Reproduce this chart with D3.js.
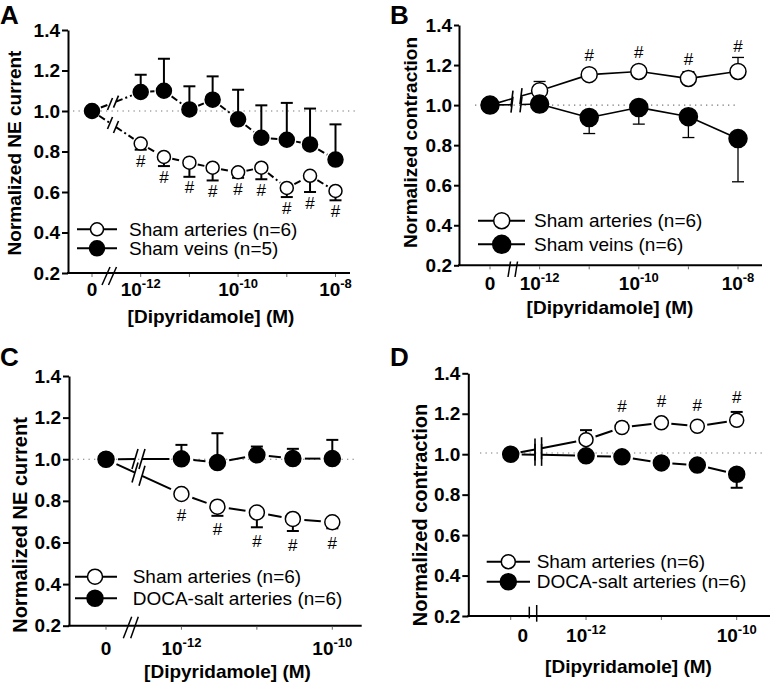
<!DOCTYPE html>
<html><head><meta charset="utf-8">
<script src="https://cdn.jsdelivr.net/npm/d3@7"></script>
<style>
body{margin:0;background:#fff}
svg{display:block}
text{font-family:"Liberation Sans",Arial,Helvetica,sans-serif;fill:#000}
</style>
</head><body>
<svg id="chart" width="774" height="683"></svg>
<script>
// ---------- DATA ----------
const ZERO_POS = 1e-13; // where "0" concentration sits on the log axis
const yTicks = [0.2, 0.4, 0.6, 0.8, 1.0, 1.2, 1.4];

// Panel A
const concA = [0, 1e-12, 3e-12, 1e-11, 3e-11, 1e-10, 3e-10, 1e-9, 3e-9, 1e-8];
const aArtMean = [1.0, 0.839, 0.773, 0.745, 0.720, 0.697, 0.720, 0.620, 0.680, 0.605];
const aArtErr  = [0, 0.030, 0.045, 0.070, 0.063, 0.027, 0.057, 0.045, 0.080, 0.046];
const aArtSig  = [0, 1, 1, 1, 1, 1, 1, 1, 1, 1];
const aVeinMean = [1.0, 1.094, 1.100, 1.008, 1.056, 0.959, 0.868, 0.858, 0.835, 0.760];
const aVeinErr  = [0, 0.085, 0.158, 0.114, 0.115, 0.146, 0.160, 0.182, 0.177, 0.174];
const aTickExp = [-12, -10, -8];
const aLegend = ["Sham arteries (n=6)", "Sham veins (n=5)"];

// Panel B
const concB = [0, 1e-12, 1e-11, 1e-10, 1e-9, 1e-8];
const bArtMean = [1.0, 1.072, 1.152, 1.168, 1.133, 1.168];
const bArtErr  = [0, 0.046, 0.015, 0.022, 0.034, 0.070];
const bArtSig  = [0, 0, 1, 1, 1, 1];
const bVeinMean = [1.0, 1.005, 0.938, 0.988, 0.942, 0.833];
const bVeinErr  = [0, 0, 0.080, 0.083, 0.104, 0.216];
const bTickExp = [-12, -10, -8];
const bLegend = ["Sham arteries (n=6)", "Sham veins (n=6)"];

// Panel C
const concC = [0, 1e-12, 3e-12, 1e-11, 3e-11, 1e-10];
const cArtMean = [1.0, 0.833, 0.772, 0.744, 0.713, 0.697];
const cArtErr  = [0, 0.015, 0.044, 0.071, 0.058, 0.029];
const cArtSig  = [0, 1, 1, 1, 1, 1];
const cDocaMean = [1.0, 1.002, 0.984, 1.021, 1.003, 1.003];
const cDocaErr  = [0, 0.067, 0.141, 0.040, 0.047, 0.090];
const cTickExp = [-12, -10];
const cLegend = ["Sham arteries (n=6)", "DOCA-salt arteries (n=6)"];

// Panel D
const concD = [0, 1e-12, 3e-12, 1e-11, 3e-11, 1e-10];
const dArtMean = [1.0, 1.072, 1.132, 1.155, 1.138, 1.168];
const dArtErr  = [0, 0.047, 0.023, 0.012, 0.015, 0.041];
const dArtSig  = [0, 0, 1, 1, 1, 1];
const dDocaMean = [1.0, 0.992, 0.987, 0.957, 0.946, 0.901];
const dDocaErr  = [0, 0, 0, 0, 0, 0.067];
const dTickExp = [-12, -10];
const dLegend = ["Sham arteries (n=6)", "DOCA-salt arteries (n=6)"];

// ---------- DRAWING ----------
const svg = d3.select("#chart");
const FONT = '"Liberation Sans",Arial,Helvetica,sans-serif';

function drawPanel(cfg) {
  const g = svg.append("g");
  const y = d3.scaleLinear().domain([0.2, 1.4]).range([cfg.yBottom, cfg.yTop]);
  const x = d3.scaleLog().domain([ZERO_POS, cfg.xMax]).range([cfg.x0, cfg.xMaxPx]);
  const px = c => x(c === 0 ? ZERO_POS : c);

  // reference dotted line
  g.append("line")
    .attr("x1", cfg.refX1).attr("x2", cfg.refX2)
    .attr("y1", y(cfg.ref)).attr("y2", y(cfg.ref))
    .attr("stroke", "#777").attr("stroke-width", 1.2)
    .attr("stroke-dasharray", "1.3,4.2");

  // y axis
  const ya = d3.axisLeft(y).tickValues(yTicks).tickFormat(d3.format(".1f"))
    .tickSize(cfg.tickLen).tickSizeOuter(0).tickPadding(2);
  const yg = g.append("g").attr("transform", `translate(${cfg.axX},0)`).call(ya);
  yg.select(".domain").attr("stroke", "#000").attr("stroke-width", 2);
  yg.selectAll(".tick line").attr("stroke", "#000").attr("stroke-width", 2);
  yg.selectAll(".tick text").attr("font-family", FONT).attr("font-size", 19)
    .attr("font-weight", "bold").attr("fill", "#000");

  // x axis line
  g.append("line").attr("x1", cfg.axX - 1).attr("x2", cfg.axEnd)
    .attr("y1", y(0.2)).attr("y2", y(0.2))
    .attr("stroke", "#000").attr("stroke-width", 2);

  // small x ticks at 0 and decades
  const decades = [ZERO_POS];
  for (let e = -12; e <= Math.round(Math.log10(cfg.xMax)); e++) decades.push(Math.pow(10, e));
  g.selectAll(null).data(decades).enter().append("line")
    .attr("x1", d => x(d)).attr("x2", d => x(d))
    .attr("y1", y(0.2) + 1).attr("y2", y(0.2) + 4)
    .attr("stroke", "#666").attr("stroke-width", 1);

  // axis break on x axis
  cfg.axBreak.forEach(b => {
    g.append("line").attr("x1", b[0]).attr("y1", b[1]).attr("x2", b[2]).attr("y2", b[3])
      .attr("stroke", "#000").attr("stroke-width", 1.5);
  });

  // x tick labels
  g.append("text").attr("x", cfg.zeroLabelX).attr("y", cfg.tickBase)
    .attr("text-anchor", "middle").attr("font-size", 19).attr("font-weight", "bold").text("0");
  cfg.tickExp.forEach(e => {
    const t = g.append("text").attr("x", x(Math.pow(10, e))).attr("y", cfg.tickBase)
      .attr("text-anchor", "middle").attr("font-size", 19).attr("font-weight", "bold");
    t.append("tspan").text("10");
    t.append("tspan").attr("dy", -8).attr("font-size", 13).text(String(e));
  });

  // axis titles
  g.append("text").attr("x", cfg.xTitle[0]).attr("y", cfg.xTitle[1])
    .attr("text-anchor", "middle").attr("font-size", 19).attr("font-weight", "bold")
    .text("[Dipyridamole] (M)");
  g.append("text")
    .attr("transform", `translate(${cfg.yTitle[0]},${cfg.yTitle[1]}) rotate(-90)`)
    .attr("text-anchor", "middle").attr("dominant-baseline", "central")
    .attr("font-size", cfg.yTitleSize).attr("font-weight", "bold").text(cfg.yTitleText);

  // panel letter
  g.append("text").attr("x", cfg.letter[0]).attr("y", cfg.letter[1])
    .attr("font-size", 26).attr("font-weight", "bold").text(cfg.letterText);

  // series
  const lineG = g.append("g"), errG = g.append("g"), markG = g.append("g");
  cfg.series.forEach(s => {
    const pts = s.conc.map((c, i) => ({ x: px(c), y: y(s.mean[i]), i }));
    const r = s.filled ? cfg.rFill : cfg.rOpen;
    // connecting segments
    for (let i = 0; i < pts.length - 1; i++) {
      const a = pts[i], b = pts[i + 1];
      const dx = b.x - a.x, dy = b.y - a.y, L = Math.hypot(dx, dy);
      const ux = dx / L, uy = dy / L, sh = r + cfg.lineGap;
      const A = { x: a.x + ux * sh, y: a.y + uy * sh };
      const B = { x: b.x - ux * sh, y: b.y - uy * sh };
      const seg = (p, q) => lineG.append("line")
        .attr("x1", p.x).attr("y1", p.y).attr("x2", q.x).attr("y2", q.y)
        .attr("stroke", "#000").attr("stroke-width", cfg.lineW)
        .attr("stroke-dasharray", cfg.dash || null);
      if (i === 0) {
        const yAt = xx => a.y + (xx - a.x) * dy / dx;
        const bl = cfg.brk.x - cfg.brk.half, br = cfg.brk.x + cfg.brk.half;
        seg(A, { x: bl, y: yAt(bl) });
        seg({ x: br, y: yAt(br) }, B);
        [bl, br].forEach(bx => {
          const by = yAt(bx);
          lineG.append("line")
            .attr("x1", bx - cfg.brk.dx).attr("y1", by + cfg.brk.h)
            .attr("x2", bx + cfg.brk.dx).attr("y2", by - cfg.brk.h)
            .attr("stroke", "#000").attr("stroke-width", 1.6);
        });
      } else {
        seg(A, B);
      }
    }
    // error bars
    pts.forEach(p => {
      const e = s.err[p.i];
      if (!e) return;
      const yEnd = y(s.mean[p.i] + s.dir * e);
      errG.append("line").attr("x1", p.x).attr("x2", p.x).attr("y1", p.y).attr("y2", yEnd)
        .attr("stroke", "#000").attr("stroke-width", cfg.errW);
      errG.append("line").attr("x1", p.x - cfg.capW).attr("x2", p.x + cfg.capW)
        .attr("y1", yEnd).attr("y2", yEnd)
        .attr("stroke", "#000").attr("stroke-width", cfg.errW);
    });
    // significance marks
    if (s.sig) {
      pts.forEach(p => {
        if (!s.sig[p.i]) return;
        const e = s.err[p.i] || 0;
        let edge;
        if (s.dir < 0) edge = Math.max(y(s.mean[p.i] - e), p.y + r);
        else edge = Math.min(y(s.mean[p.i] + e), p.y - r);
        const cy = edge + (s.dir < 0 ? cfg.hashOff : -cfg.hashOff);
        markG.append("text").attr("x", p.x).attr("y", cy)
          .attr("text-anchor", "middle").attr("dominant-baseline", "central")
          .attr("font-size", 17).text("#");
      });
    }
    // markers
    markG.selectAll(null).data(pts).enter().append("circle")
      .attr("cx", d => d.x).attr("cy", d => d.y).attr("r", r)
      .attr("fill", s.filled ? "#000" : "#fff")
      .attr("stroke", "#000").attr("stroke-width", 1.5);
  });

  // legend
  cfg.legend.forEach((txt, k) => {
    const ly = cfg.legRows[k];
    const filled = k === 1;
    g.append("line").attr("x1", cfg.legLine[0]).attr("x2", cfg.legLine[1])
      .attr("y1", ly).attr("y2", ly).attr("stroke", "#000").attr("stroke-width", 2);
    g.append("circle").attr("cx", cfg.legCx).attr("cy", ly)
      .attr("r", filled ? cfg.rFill : cfg.rOpen)
      .attr("fill", filled ? "#000" : "#fff").attr("stroke", "#000").attr("stroke-width", 1.5);
    g.append("text").attr("x", cfg.legTx).attr("y", ly)
      .attr("dominant-baseline", "central").attr("font-size", 19).text(txt);
  });
}

drawPanel({
  letterText: "A", letter: [0, 24],
  yTop: 30, yBottom: 273, axX: 68, axEnd: 350, tickLen: 6,
  x0: 92, xMax: 1e-8, xMaxPx: 335.5, zeroLabelX: 92, tickExp: aTickExp, tickBase: 296,
  ref: 1.0, refX1: 73, refX2: 357,
  axBreak: [[102, 285, 110, 267], [108.5, 285, 116.5, 267]],
  brk: { x: 113, half: 3, dx: 2.5, h: 6 },
  xTitle: [211, 323], yTitle: [14, 153], yTitleText: "Normalized NE current", yTitleSize: 19,
  rFill: 7.5, rOpen: 6.5, lineW: 2, lineGap: 2, dash: "7,3,2,3", errW: 2, capW: 6, hashOff: 11,
  series: [
    { conc: concA, mean: aArtMean, err: aArtErr, dir: -1, filled: false, sig: aArtSig },
    { conc: concA, mean: aVeinMean, err: aVeinErr, dir: 1, filled: true }
  ],
  legend: aLegend, legRows: [229.3, 248.3], legLine: [77, 117], legCx: 97, legTx: 129
});

drawPanel({
  letterText: "B", letter: [390, 24],
  yTop: 25, yBottom: 265.3, axX: 459, axEnd: 762, tickLen: 5,
  x0: 490, xMax: 1e-8, xMaxPx: 738, zeroLabelX: 490, tickExp: bTickExp, tickBase: 290,
  ref: 1.0, refX1: 475, refX2: 737,
  axBreak: [[508, 277, 510.5, 261.5], [515, 277, 517.5, 261.5]],
  brk: { x: 516.5, half: 4.5, dx: 1, h: 8 },
  xTitle: [610, 314], yTitle: [410, 142.5], yTitleText: "Normalized contraction", yTitleSize: 19,
  rFill: 9, rOpen: 8, lineW: 1.6, lineGap: 0, dash: null, errW: 1.3, capW: 6, hashOff: 11,
  series: [
    { conc: concB, mean: bArtMean, err: bArtErr, dir: 1, filled: false, sig: bArtSig },
    { conc: concB, mean: bVeinMean, err: bVeinErr, dir: -1, filled: true }
  ],
  legend: bLegend, legRows: [220.7, 244.3], legLine: [478, 525], legCx: 501.7, legTx: 534
});

drawPanel({
  letterText: "C", letter: [0, 366],
  yTop: 376, yBottom: 625.7, axX: 69, axEnd: 361.7, tickLen: 6,
  x0: 106, xMax: 1e-10, xMaxPx: 332.3, zeroLabelX: 106, tickExp: cTickExp, tickBase: 655,
  ref: 1.0, refX1: 72, refX2: 358,
  axBreak: [[123.3, 638.3, 131.7, 616.7], [130.7, 638.3, 138.3, 616.7]],
  brk: { x: 138.5, half: 3.5, dx: 3, h: 10 },
  xTitle: [227.5, 678], yTitle: [20, 525], yTitleText: "Normalized NE current", yTitleSize: 20,
  rFill: 8, rOpen: 7.5, lineW: 2, lineGap: 4, dash: null, errW: 2, capW: 6, hashOff: 14,
  series: [
    { conc: concC, mean: cArtMean, err: cArtErr, dir: -1, filled: false, sig: cArtSig },
    { conc: concC, mean: cDocaMean, err: cDocaErr, dir: 1, filled: true }
  ],
  legend: cLegend, legRows: [576.7, 598.3], legLine: [75, 117], legCx: 95, legTx: 132.7
});

drawPanel({
  letterText: "D", letter: [390, 366],
  yTop: 373.3, yBottom: 616, axX: 468.3, axEnd: 770, tickLen: 6,
  x0: 510.7, xMax: 1e-10, xMaxPx: 736.7, zeroLabelX: 522.7, tickExp: dTickExp, tickBase: 641.7,
  ref: 1.006, refX1: 480, refX2: 763,
  axBreak: [[529.3, 606.7, 529.3, 618.3], [536.7, 605, 536.7, 621.7]],
  brk: { x: 538.3, half: 3.3, dx: 0, h: 11 },
  xTitle: [628.5, 673], yTitle: [420, 515], yTitleText: "Normalized contraction", yTitleSize: 20,
  rFill: 8, rOpen: 7, lineW: 2, lineGap: 3, dash: null, errW: 2, capW: 6, hashOff: 14,
  series: [
    { conc: concD, mean: dArtMean, err: dArtErr, dir: 1, filled: false, sig: dArtSig },
    { conc: concD, mean: dDocaMean, err: dDocaErr, dir: -1, filled: true }
  ],
  legend: dLegend, legRows: [561.7, 581.7], legLine: [486.7, 530], legCx: 508.3, legTx: 536.7
});
</script>
</body></html>
